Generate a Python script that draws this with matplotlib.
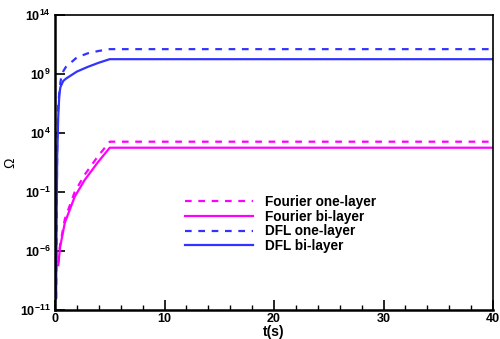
import matplotlib
matplotlib.use("Agg")
import matplotlib.pyplot as plt
from matplotlib.ticker import FixedLocator, FuncFormatter, MultipleLocator
import numpy as np

plt.rcParams['font.family'] = ['Liberation Sans', 'DejaVu Sans']
plt.rcParams['mathtext.fontset'] = 'custom'
plt.rcParams['mathtext.rm'] = 'Liberation Sans:bold'
plt.rcParams['mathtext.bf'] = 'Liberation Sans:bold'
plt.rcParams['mathtext.it'] = 'Liberation Sans:bold'

# time samples (s) and log10(Omega) values
t_dfl_bi = [0.1, 0.15, 0.2, 0.3, 0.4, 0.5, 0.75, 1, 2, 3, 4, 5, 40]
log_dfl_bi = [-10.0, -3.0, 2.0, 5.5, 7.3, 7.9, 8.4, 8.6, 9.2, 9.6, 9.95, 10.25, 10.25]

t_dfl_one = [0.1, 0.2, 0.3, 0.5, 0.6, 0.8, 1, 2, 3, 4, 5, 40]
log_dfl_one = [-10.0, 3.0, 6.5, 8.3, 8.9, 9.3, 9.6, 10.4, 10.75, 10.95, 11.1, 11.1]

t_four_bi = [0.3, 0.46, 0.9, 1.8, 2.7, 3.9, 5, 40]
log_four_bi = [-7.2, -5.7, -3.6, -1.4, 0.0, 1.5, 2.75, 2.75]

t_four_one = [0.3, 0.46, 0.9, 1.8, 2.7, 3.9, 5, 40]
log_four_one = [-7.0, -5.5, -3.3, -1.0, 0.45, 2.0, 3.26, 3.26]

labels = ["Fourier one-layer", "Fourier bi-layer", "DFL one-layer", "DFL bi-layer"]

fig = plt.figure(figsize=(5.0, 3.39), dpi=100)
ax = fig.add_axes([0.11, 0.0855, 0.876, 0.8705])

magenta = '#ff00ff'
blue = '#3333ff'
lw = 1.6
ax.plot(t_four_one, 10.0 ** np.array(log_four_one), color=magenta, lw=lw, ls=(0, (3, 3)), label=labels[0])
ax.plot(t_four_bi, 10.0 ** np.array(log_four_bi), color=magenta, lw=lw, label=labels[1])
ax.plot(t_dfl_one, 10.0 ** np.array(log_dfl_one), color=blue, lw=lw, ls=(0, (3, 3)), label=labels[2])
ax.plot(t_dfl_bi, 10.0 ** np.array(log_dfl_bi), color=blue, lw=lw, label=labels[3])

ax.set_yscale('log')
ax.set_xlim(0, 40)
ax.set_ylim(1e-11, 1e14)
ax.yaxis.set_major_locator(FixedLocator([10.0 ** e for e in [-11, -6, -1, 4, 9, 14]]))
ax.yaxis.set_minor_locator(FixedLocator([]))
ax.yaxis.set_major_formatter(FuncFormatter(lambda v, p: r'$\mathbf{10^{%d}}$' % round(np.log10(v))))
ax.xaxis.set_major_locator(MultipleLocator(10))
ax.xaxis.set_minor_locator(MultipleLocator(2))

ax.tick_params(axis='both', which='major', direction='in', length=7, width=1.2, labelsize=9, pad=2)
ax.tick_params(axis='y', which='major', pad=3)
ax.tick_params(axis='x', which='minor', direction='in', length=3.5, width=1.0)
ax.tick_params(top=False, right=False, which='both')
for lab in ax.get_xticklabels():
    lab.set_fontweight('bold')
for s in ax.spines.values():
    s.set_linewidth(1.2)
ax.spines['left'].set_linewidth(1.8)
ax.spines['bottom'].set_linewidth(1.8)

ax.set_xlabel('t(s)', fontsize=10, fontweight='bold', labelpad=0)
ax.set_ylabel('Ω', fontsize=10)
ax.yaxis.set_label_coords(-0.085, 0.5)

leg = ax.legend(loc='upper left', bbox_to_anchor=(0.297, 0.39), frameon=False, fontsize=9.8,
                handlelength=5.0, handletextpad=0.9, labelspacing=0.05, borderaxespad=0,
                borderpad=0)
for txt in leg.get_texts():
    txt.set_fontweight('bold')

fig.savefig('out.png', dpi=100)
